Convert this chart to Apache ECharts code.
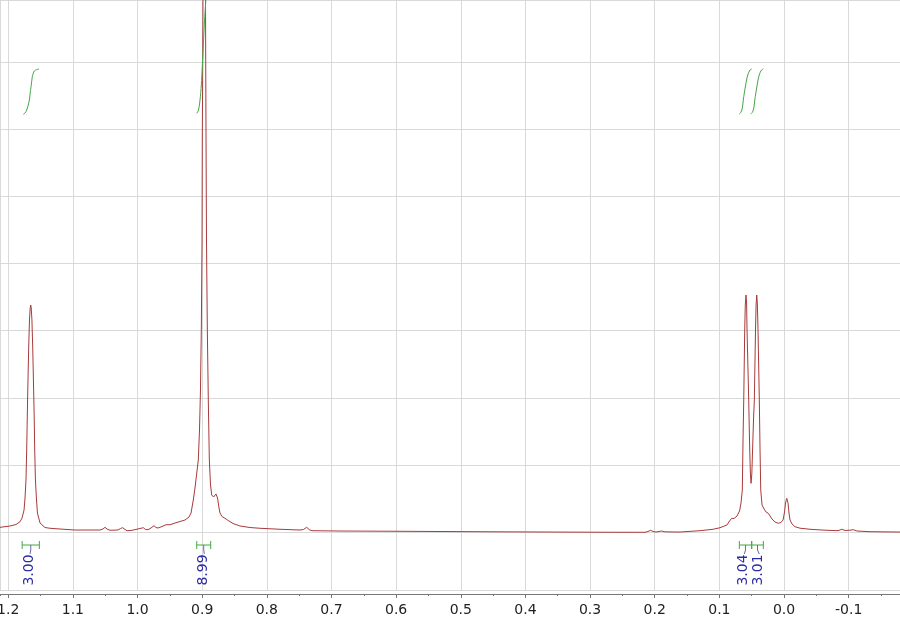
<!DOCTYPE html>
<html><head><meta charset="utf-8">
<script src="https://cdn.jsdelivr.net/npm/echarts@6/dist/echarts.min.js"></script>
<style>html,body{margin:0;padding:0;background:#fff}#c{width:900px;height:618px}</style>
</head><body><div id="c"></div>
<script>
// chemical shift axis (ppm), reversed
const X_MIN = -0.1794, X_MAX = 1.2127;
const Y_MIN = -0.8586, Y_MAX = 7.9211;

// spectrum trace (ppm, intensity)
const spectrumPpm = [
1.2127,1.1972,1.1879,1.1817,1.1786,1.1755,1.1740,1.1725,1.1714,1.1704,1.1694,1.1683,1.1671,1.1660,1.1652,
1.1644,1.1633,1.1621,1.1610,1.1599,1.1590,1.1579,1.1564,1.1548,1.1508,
1.1431,1.1353,1.1199,1.0967,1.0735,1.0580,1.0534,1.0503,1.0472,1.0425,
1.0302,1.0263,1.0229,1.0193,1.0162,1.0101,1.0039,0.9961,0.9910,0.9876,
0.9838,0.9791,0.9745,0.9714,0.9683,0.9621,0.9559,0.9498,0.9420,0.9342,
0.9265,0.9203,0.9172,0.9137,0.9111,0.9087,0.9060,0.9041,0.9026,0.9013,
0.9002,0.8998,0.8991,0.8985,0.8977,0.8968,0.8959,0.8951,0.8945,0.8940,
0.8933,0.8920,0.8905,0.8889,0.8871,0.8852,0.8824,0.8786,0.8762,0.8739,
0.8724,0.8693,0.8647,0.8608,0.8569,0.8523,0.8415,0.8260,0.8105,0.7796,
0.7487,0.7432,0.7383,0.7340,0.7301,0.6868,0.5940,0.4393,0.2846,0.2150,
0.2104,0.2062,0.2026,0.1980,0.1933,0.1892,0.1841,0.1609,0.1299,0.1098,
0.0990,0.0882,0.0843,0.0809,0.0773,0.0727,0.0688,0.0665,0.0645,0.0634,
0.0623,0.0608,0.0599,0.0588,0.0579,0.0572,0.0557,0.0546,0.0532,0.0521,
0.0510,0.0498,0.0484,0.0472,0.0459,0.0441,0.0432,0.0422,0.0413,0.0402,
0.0382,0.0371,0.0360,0.0340,0.0309,0.0278,0.0243,0.0217,0.0186,0.0139,
0.0088,0.0046,0.0015,-0.0008,-0.0023,-0.0042,-0.0062,-0.0077,-0.0093,-0.0124,
-0.0170,-0.0247,-0.0402,-0.0634,-0.0835,-0.0892,-0.0944,-0.1021,-0.1072,-0.1129,-0.1330,-0.1794];
const spectrumIntensity = [
0.074,0.094,0.116,0.158,0.213,0.332,0.510,0.778,1.225,1.775,2.266,2.757,3.159,3.338,3.382,
3.338,3.159,2.757,2.266,1.775,1.225,0.778,0.510,0.287,0.138,
0.071,0.060,0.049,0.034,0.034,0.034,0.049,0.074,0.049,0.030,
0.034,0.057,0.068,0.042,0.024,0.027,0.039,0.057,0.068,0.042,
0.039,0.064,0.098,0.071,0.064,0.086,0.113,0.112,0.138,0.161,
0.183,0.228,0.287,0.481,0.659,0.853,1.076,1.522,2.118,3.010,
4.350,5.838,7.028,8.665,12.385,14.737,12.385,8.665,7.028,5.838,
4.350,3.010,1.969,1.076,0.704,0.555,0.525,0.570,0.510,0.362,
0.287,0.235,0.208,0.183,0.158,0.131,0.094,0.071,0.060,0.045,
0.034,0.042,0.074,0.037,0.024,0.019,0.015,0.007,0.001,0,
0.012,0.030,0.012,0.004,0.012,0.019,0.007,0.004,0.024,0.045,
0.068,0.109,0.168,0.208,0.205,0.243,0.317,0.436,0.629,1.374,
1.969,3.010,3.382,3.531,3.412,3.010,2.415,1.969,1.299,0.897,
0.729,0.868,1.299,1.671,1.969,3.010,3.382,3.531,3.412,3.010,
1.969,1.225,0.629,0.406,0.347,0.302,0.283,0.257,0.198,0.153,
0.134,0.146,0.183,0.302,0.436,0.506,0.436,0.287,0.183,0.124,
0.083,0.061,0.045,0.031,0.024,0.045,0.027,0.031,0.039,0.019,0.009,0.004];

// integral curves (ppm, integral trace level)
const int1Ppm = [1.1766,1.1740,1.1714,1.1694,1.1673,1.1662,1.1647,1.1627,1.1611,1.1596,1.1562,1.1523];
const int1Val = [6.220,6.240,6.284,6.344,6.433,6.522,6.631,6.780,6.835,6.865,6.884,6.894];
const int2Ppm = [0.9084,0.9056,0.9033,0.9013,0.8998,0.8982,0.8967,0.8951,0.8933,0.8910,0.8879];
const int2Val = [6.235,6.284,6.433,6.656,6.929,7.251,7.549,7.802,8.040,8.159,8.204];
const int3Ppm = [0.0691,0.0665,0.0645,0.0630,0.0614,0.0588,0.0561,0.0526,0.0500];
const int3Val = [6.225,6.254,6.314,6.433,6.537,6.686,6.805,6.879,6.894];
const int4Ppm = [0.0514,0.0487,0.0467,0.0452,0.0436,0.0410,0.0384,0.0348,0.0320];
const int4Val = [6.225,6.254,6.314,6.433,6.537,6.686,6.805,6.879,6.894];

// integration regions and values
const integralFrom = [1.1784, 0.9084, 0.0691, 0.0500];
const integralTo   = [1.1518, 0.8868, 0.0500, 0.0320];
const integralLabelAt = [1.1678, 0.8982, 0.0630, 0.0398];
const integralValues = ['3.00', '8.99', '3.04', '3.01'];

const BRACKET_LEVEL = -0.189;
const GREEN = '#45a845';
const BLUE = '#2b2ba3';

const pairs = (xs, ys) => xs.map((x, i) => [x, ys[i]]);

const intStyle = (xs, ys) => ({
  type: 'line', xAxisIndex: 0, data: pairs(xs, ys), showSymbol: false, symbol: 'none',
  smooth: 0.3, silent: true, clip: true, z: 4,
  lineStyle: { color: GREEN, width: 1 }
});

const chart = echarts.init(document.getElementById('c'), null, { renderer: 'canvas' });
chart.setOption({
  animation: false,
  backgroundColor: '#ffffff',
  grid: { left: 0, right: 0, top: 0, bottom: 28, containLabel: false, outerBoundsMode: 'none' },
  xAxis: [{
    type: 'value', min: X_MIN, max: X_MAX, inverse: true, splitNumber: 14,
    position: 'bottom', offset: 4,
    axisLine: { show: true, onZero: false, lineStyle: { color: '#777', width: 1 } },
    axisTick: { show: true, length: 4, lineStyle: { color: '#777' } },
    axisLabel: { show: true, margin: 9, fontSize: 14, color: '#222', fontFamily: 'DejaVu Sans',
      showMinLabel: false, showMaxLabel: false, formatter: v => v.toFixed(1) },
    splitLine: { show: true, lineStyle: { color: '#d9d9d9', width: 1 } }
  }, {
    type: 'value', min: X_MIN, max: X_MAX, inverse: true, splitNumber: 28,
    position: 'bottom', offset: 4,
    axisLine: { show: false, onZero: false },
    axisTick: { show: true, length: 2, lineStyle: { color: '#777' } },
    axisLabel: { show: false },
    splitLine: { show: false }
  }],
  yAxis: {
    type: 'value', min: Y_MIN, max: Y_MAX, splitNumber: 9,
    axisLine: { show: false }, axisTick: { show: false }, axisLabel: { show: false },
    splitLine: { show: true, lineStyle: { color: '#d9d9d9', width: 1 } }
  },
  series: [
    {
      type: 'line', xAxisIndex: 0, data: pairs(spectrumPpm, spectrumIntensity),
      showSymbol: false, symbol: 'none', silent: true, clip: true, z: 3,
      lineStyle: { color: '#a83a3a', width: 1 }
    },
    intStyle(int1Ppm, int1Val),
    intStyle(int2Ppm, int2Val),
    intStyle(int3Ppm, int3Val),
    intStyle(int4Ppm, int4Val),
    {
      type: 'custom', xAxisIndex: 0, silent: true, z: 5,
      data: integralFrom.map((f, i) => [f, integralTo[i], integralLabelAt[i]]),
      encode: { x: [0, 1, 2] },
      renderItem: function (params, api) {
        const a = api.coord([api.value(0), BRACKET_LEVEL]);
        const b = api.coord([api.value(1), BRACKET_LEVEL]);
        const c = api.coord([api.value(2), BRACKET_LEVEL]);
        const y = a[1];
        const mid = (a[0] + b[0]) / 2;
        const gs = { stroke: GREEN, lineWidth: 1 };
        return {
          type: 'group',
          children: [
            { type: 'line', shape: { x1: a[0], y1: y, x2: b[0], y2: y }, style: gs },
            { type: 'line', shape: { x1: a[0], y1: y - 4, x2: a[0], y2: y + 4 }, style: gs },
            { type: 'line', shape: { x1: b[0], y1: y - 4, x2: b[0], y2: y + 4 }, style: gs },
            { type: 'polyline', shape: { points: [[mid, y], [mid, y + 5], [c[0] + 1, y + 9]] },
              style: { stroke: '#6a6aa8', lineWidth: 1, fill: null } },
            { type: 'text', x: c[0], y: y + 25, rotation: Math.PI / 2,
              style: { text: integralValues[params.dataIndex], fill: BLUE,
                font: '14px "DejaVu Sans"', align: 'center', verticalAlign: 'middle' } }
          ]
        };
      }
    }
  ]
});
</script>
</body></html>
